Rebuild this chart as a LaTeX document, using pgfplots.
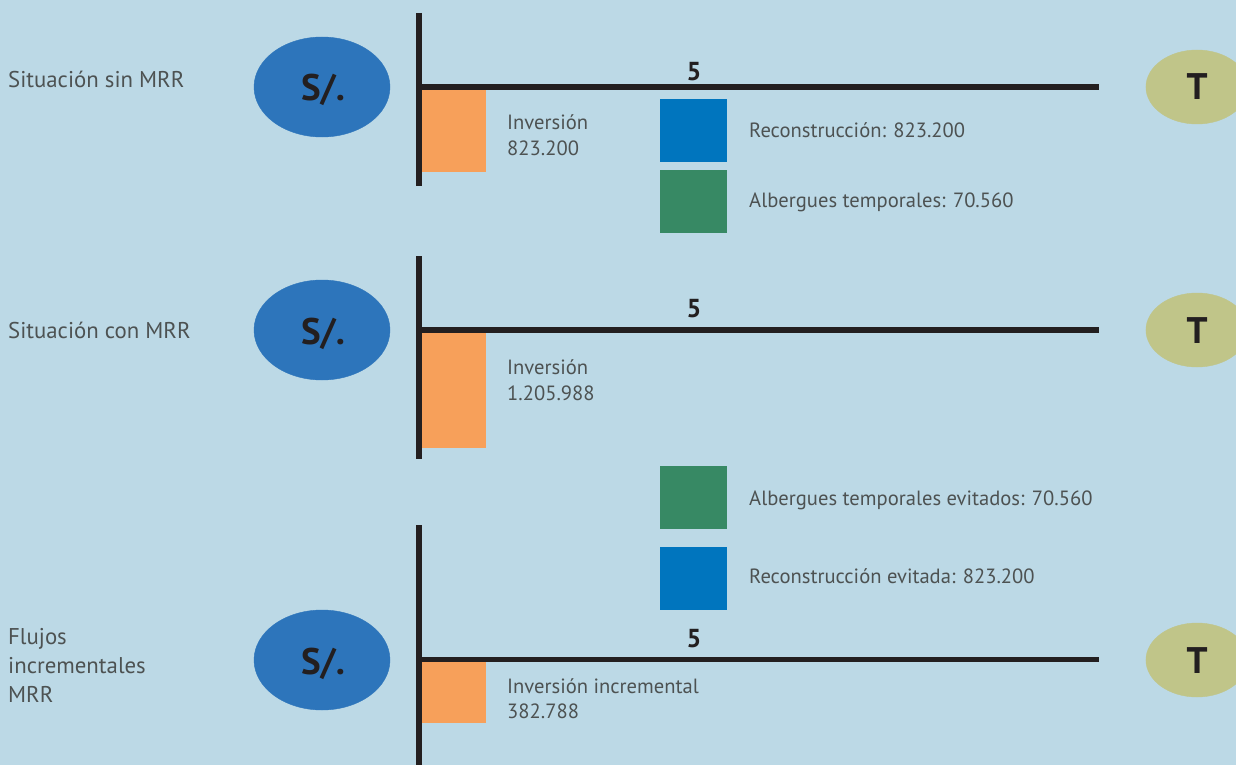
\documentclass[border=0pt]{standalone}
\usepackage{pgfplots}
\pgfplotsset{compat=1.18}
\usepackage{fontspec}
\setmainfont{PT Sans}
\definecolor{bg}{RGB}{188,217,230}
\definecolor{sblue}{RGB}{45,117,187}
\definecolor{tolive}{RGB}{192,197,137}
\definecolor{barorange}{RGB}{247,160,90}
\definecolor{sqblue}{RGB}{0,117,190}
\definecolor{sqgreen}{RGB}{55,137,100}
\definecolor{ink}{RGB}{35,31,32}
\definecolor{txtgray}{RGB}{77,82,82}

\tikzset{
    txt/.style={anchor=base west, inner sep=0pt, text=txtgray, font=\fontsize{20.6}{25}\selectfont},
    lbl/.style={anchor=base west, inner sep=0pt, text=txtgray, font=\fontsize{22.8}{29}\selectfont},
    big/.style={anchor=base, inner sep=0pt, text=ink, font=\fontsize{37}{40}\selectfont\bfseries},
    five/.style={anchor=base, inner sep=0pt, text=ink, font=\fontsize{26}{30}\selectfont\bfseries},
}

\begin{document}
\begin{tikzpicture}
\begin{axis}[
    hide axis,
    scale only axis,
    width=1236pt, height=765pt,
    xmin=0, xmax=1236, ymin=0, ymax=765,
    y dir=reverse,
    clip=true,
    clip marker paths=true,
]
% background
\addplot[fill=bg, draw=none] coordinates {(0,0) (1236,0) (1236,765) (0,765)} -- cycle;

% S/. and T ellipses
\addplot[sblue, only marks, mark=*, mark size=50pt,
    mark options={xscale=1.36, fill=sblue, draw=sblue}]
    coordinates {(322,87) (322,330) (322,660)};
\addplot[tolive, only marks, mark=*, mark size=37pt,
    mark options={xscale=1.38, fill=tolive, draw=tolive}]
    coordinates {(1197,87) (1197,330) (1197,660)};

% inversion bars
\addplot[fill=barorange, draw=none] coordinates {(422,90) (486,90) (486,172) (422,172)} -- cycle;
\addplot[fill=barorange, draw=none] coordinates {(422,333) (486,333) (486,448) (422,448)} -- cycle;
\addplot[fill=barorange, draw=none] coordinates {(422,662) (486,662) (486,723) (422,723)} -- cycle;

% benefit / cost squares
\addplot[fill=sqblue, draw=none] coordinates {(660,99) (727,99) (727,162) (660,162)} -- cycle;
\addplot[fill=sqgreen, draw=none] coordinates {(660,170) (727,170) (727,233) (660,233)} -- cycle;
\addplot[fill=sqgreen, draw=none] coordinates {(660,466) (727,466) (727,529) (660,529)} -- cycle;
\addplot[fill=sqblue, draw=none] coordinates {(660,547) (727,547) (727,610) (660,610)} -- cycle;

% time axes
\addplot[ink, line width=5.5pt] coordinates {(416,87) (1099,87)};
\addplot[ink, line width=6pt] coordinates {(419,13) (419,186)};
\addplot[ink, line width=5.5pt] coordinates {(416,330) (1099,330)};
\addplot[ink, line width=6pt] coordinates {(419,256) (419,459)};
\addplot[ink, line width=5.5pt] coordinates {(416,659.5) (1099,659.5)};
\addplot[ink, line width=6pt] coordinates {(419,525) (419,770)};

% texts
\node[lbl] at (axis cs:8,88) {Situación sin MRR};
\node[lbl] at (axis cs:8,338) {Situación con MRR};
\node[lbl] at (axis cs:8,644) {Flujos};
\node[lbl] at (axis cs:8,673) {incrementales};
\node[lbl] at (axis cs:8,702) {MRR};

\node[big] at (axis cs:323,101) {S/.};
\node[big] at (axis cs:323,344) {S/.};
\node[big] at (axis cs:323,674) {S/.};
\node[big] at (axis cs:1197,100) {T};
\node[big] at (axis cs:1197,343) {T};
\node[big] at (axis cs:1197,673) {T};

\node[five] at (axis cs:694,81) {5};
\node[five] at (axis cs:694,317) {5};
\node[five] at (axis cs:694,647) {5};

\node[txt] at (axis cs:507,130) {Inversión};
\node[txt] at (axis cs:507,155) {823.200};
\node[txt] at (axis cs:749,137) {Reconstrucción: 823.200};
\node[txt] at (axis cs:749,207) {Albergues temporales: 70.560};

\node[txt] at (axis cs:507,374) {Inversión};
\node[txt] at (axis cs:507,400) {1.205.988};

\node[txt] at (axis cs:749,505) {Albergues temporales evitados: 70.560};
\node[txt] at (axis cs:749,583) {Reconstrucción evitada: 823.200};
\node[txt] at (axis cs:507,693) {Inversión incremental};
\node[txt] at (axis cs:507,718) {382.788};
\end{axis}
\end{tikzpicture}
\end{document}
